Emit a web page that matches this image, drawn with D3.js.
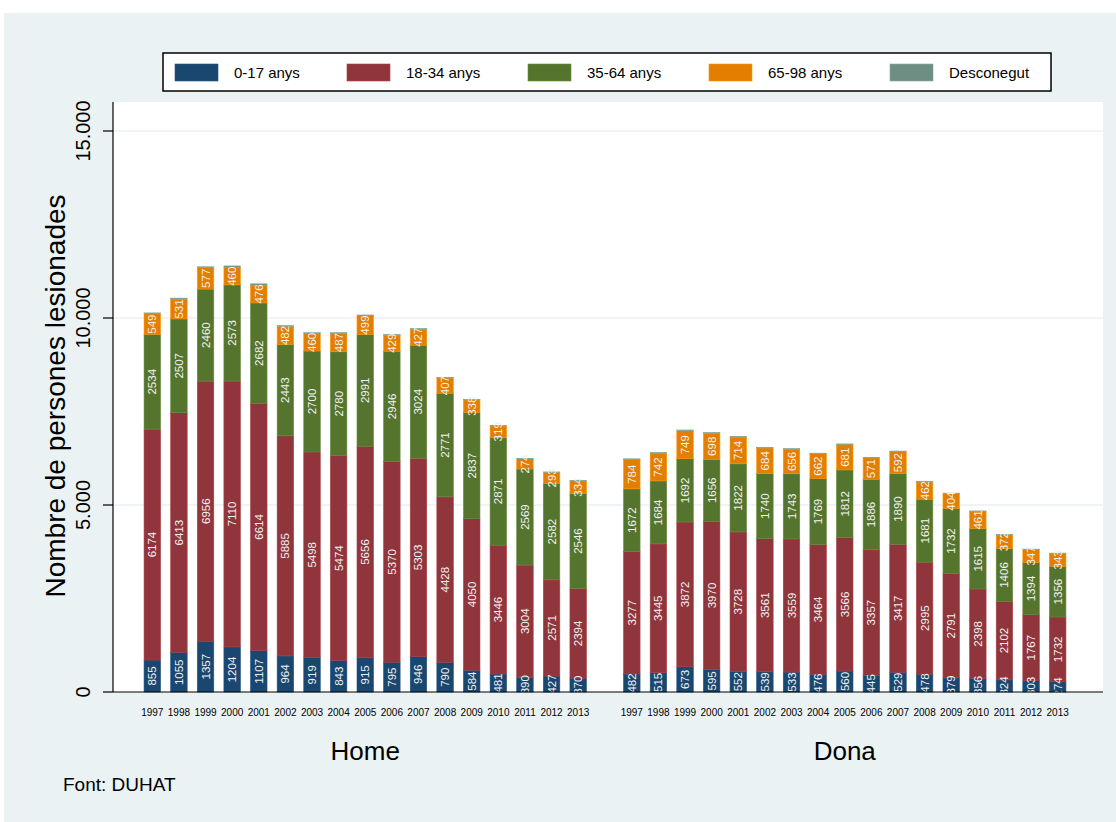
<!DOCTYPE html>
<html><head><meta charset="utf-8">
<script src="https://cdn.jsdelivr.net/npm/d3@7"></script>
<style>body{margin:0;background:#fff}svg{display:block}text{font-family:Arial,"Liberation Sans",sans-serif}</style>
</head><body><svg id="c" width="1116" height="822"></svg>
<script>
const years = ["1997","1998","1999","2000","2001","2002","2003","2004","2005","2006","2007","2008","2009","2010","2011","2012","2013"];
const groups = ["Home","Dona"];
const seriesNames = ["0-17 anys","18-34 anys","35-64 anys","65-98 anys","Desconegut"];
const colors = ["#1A476F","#90353B","#55752F","#E37E00","#6E8E84"];
const yTicks = [0,5000,10000,15000];
const yTickLabels = ["0","5.000","10.000","15.000"];

const home_0_17  = [855,1055,1357,1204,1107,964,919,843,915,795,946,790,584,481,390,427,370];
const home_18_34 = [6174,6413,6956,7110,6614,5885,5498,5474,5656,5370,5303,4428,4050,3446,3004,2571,2394];
const home_35_64 = [2534,2507,2460,2573,2682,2443,2700,2780,2991,2946,3024,2771,2837,2871,2569,2582,2546];
const home_65_98 = [549,531,577,460,476,482,460,487,499,429,427,407,338,319,274,293,334];
const home_unk   = [25,25,20,45,35,25,30,25,20,20,20,15,15,12,12,12,10];
const dona_0_17  = [482,515,673,595,552,539,533,476,560,445,529,478,379,356,324,303,274];
const dona_18_34 = [3277,3445,3872,3970,3728,3561,3559,3464,3566,3357,3417,2995,2791,2398,2102,1767,1732];
const dona_35_64 = [1672,1684,1692,1656,1822,1740,1743,1769,1812,1886,1890,1681,1732,1615,1406,1394,1356];
const dona_65_98 = [784,742,749,698,714,684,656,662,681,571,592,462,404,461,372,347,343];
const dona_unk   = [20,20,20,20,20,18,18,15,15,15,15,15,12,12,10,10,10];

const groupData = {
  Home: [home_0_17, home_18_34, home_35_64, home_65_98, home_unk],
  Dona: [dona_0_17, dona_18_34, dona_35_64, dona_65_98, dona_unk]
};

const svg = d3.select("#c");
svg.append("rect").attr("x",4).attr("y",13).attr("width",1112).attr("height",809).attr("fill","#EAF2F3");
const plot = {l:113, r:1103, t:102, b:692};
svg.append("rect").attr("x",plot.l).attr("y",plot.t).attr("width",plot.r-plot.l).attr("height",plot.b-plot.t).attr("fill","#fff");

const y = d3.scaleLinear().domain([0,15000]).range([692,131]);
const xRanges = {Home:[139,591.5], Dona:[618.5,1071]};
const xs = {};
groups.forEach(g => { xs[g] = d3.scaleBand().domain(years).range(xRanges[g]).paddingInner(0.38).paddingOuter(0.19); });

svg.append("g").selectAll("line").data(yTicks.slice(1)).join("line")
  .attr("x1",plot.l).attr("x2",plot.r).attr("y1",d=>y(d)).attr("y2",d=>y(d))
  .attr("stroke","#EAF2F3").attr("stroke-width",1.5);

groups.forEach(g => {
  const rows = years.map((yr,i) => { const o = {year:yr}; seriesNames.forEach((s,k)=>o[s]=groupData[g][k][i]); return o; });
  const stack = d3.stack().keys(seriesNames)(rows);
  const gg = svg.append("g");
  stack.forEach((layer,k) => {
    gg.append("g").selectAll("rect").data(layer).join("rect")
      .attr("x", d => xs[g](d.data.year))
      .attr("width", xs[g].bandwidth())
      .attr("y", d => y(d[1]))
      .attr("height", d => y(d[0]) - y(d[1]))
      .attr("fill", colors[k])
      .attr("stroke", d3.color(colors[k]).brighter(0.5))
      .attr("stroke-width", 0.6);
  });
  stack.forEach((layer,k) => {
    if (k === 4) return;
    gg.append("g").selectAll("text").data(layer).join("text")
      .attr("transform", d => `translate(${xs[g](d.data.year)+xs[g].bandwidth()/2+4},${(y(d[0])+y(d[1]))/2}) rotate(-90)`)
      .attr("text-anchor","middle")
      .attr("font-size",11.5)
      .attr("fill","#F2F2F2")
      .text(d => d.data[seriesNames[k]]);
  });
  svg.append("g").selectAll("text").data(years).join("text")
    .attr("x", d => xs[g](d)+xs[g].bandwidth()/2)
    .attr("y", 716)
    .attr("text-anchor","middle").attr("font-size",10).attr("fill","#000")
    .text(d=>d);
  svg.append("text").attr("x",(xRanges[g][0]+xRanges[g][1])/2).attr("y",760)
    .attr("text-anchor","middle").attr("font-size",26).attr("fill","#000").text(g);
});

svg.append("line").attr("x1",plot.l).attr("x2",plot.r).attr("y1",plot.b).attr("y2",plot.b).attr("stroke","#000").attr("stroke-width",1.2);
svg.append("line").attr("x1",plot.l).attr("x2",plot.l).attr("y1",plot.t).attr("y2",plot.b).attr("stroke","#000").attr("stroke-width",1.2);
const ya = svg.append("g");
ya.selectAll("line").data(yTicks).join("line")
  .attr("x1",plot.l-10).attr("x2",plot.l).attr("y1",d=>y(d)).attr("y2",d=>y(d)).attr("stroke","#000").attr("stroke-width",1.2);
ya.selectAll("text").data(yTicks).join("text")
  .attr("transform",(d,i)=>`translate(90,${y(d)}) rotate(-90)`)
  .attr("text-anchor","middle").attr("font-size",20).attr("fill","#000")
  .text((d,i)=>yTickLabels[i]);
svg.append("text").attr("transform","translate(65,396) rotate(-90)")
  .attr("text-anchor","middle").attr("font-size",28).attr("fill","#000").text("Nombre de persones lesionades");

svg.append("text").attr("x",63).attr("y",791).attr("font-size",19).attr("fill","#000").text("Font: DUHAT");

const lg = svg.append("g");
lg.append("rect").attr("x",163).attr("y",53).attr("width",888).attr("height",38).attr("fill","#fff").attr("stroke","#000").attr("stroke-width",1.5);
const legendX = [175,347,528,709,890];
seriesNames.forEach((s,k)=>{
  lg.append("rect").attr("x",legendX[k]).attr("y",64).attr("width",43).attr("height",17).attr("fill",colors[k]).attr("stroke",d3.color(colors[k]).brighter(0.5)).attr("stroke-width",0.6);
  lg.append("text").attr("x",legendX[k]+59).attr("y",78).attr("font-size",15).attr("fill","#000").text(s);
});
</script></body></html>
